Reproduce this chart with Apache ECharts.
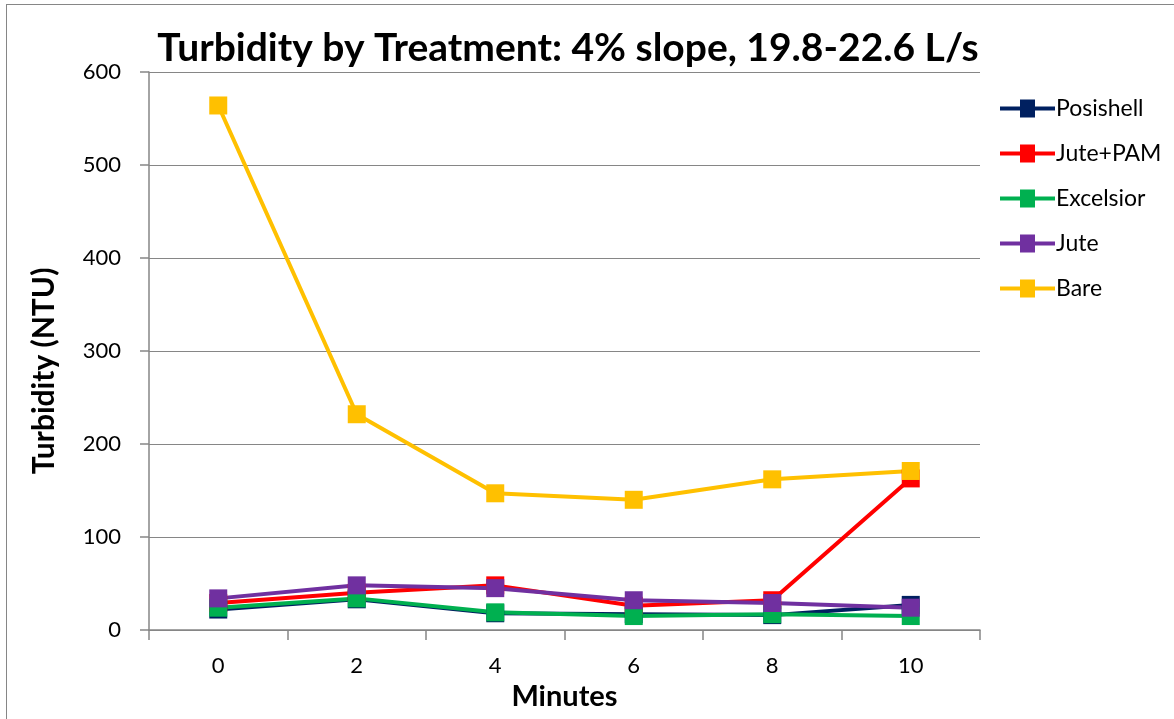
<!DOCTYPE html>
<html>
<head>
<meta charset="utf-8">
<script src="https://cdn.jsdelivr.net/npm/echarts@6/dist/echarts.min.js"></script>
<style>
  html, body { margin: 0; padding: 0; background: #fff; }
  #frame { position: absolute; left: 6px; top: 4px; width: 1200px; height: 800px; border: 1px solid #868686; box-sizing: border-box; }
  #chart { position: absolute; left: 0; top: 0; width: 1174px; height: 719px; }
</style>
</head>
<body>
<div id="frame"></div>
<div id="chart"></div>
<script>
// Turbidity readings (NTU) per treatment, sampled every 2 minutes
const minutes = ['0', '2', '4', '6', '8', '10'];
const posishell = [22, 33, 18, 17, 16, 27];
const jutePam = [29, 40, 48, 26, 32, 163];
const excelsior = [24, 34, 19, 15, 17, 15];
const jute = [34, 48, 45, 32, 29, 24];
const bare = [564, 232, 147, 140, 162, 171];

const seriesDefs = [
  { name: 'Posishell', data: posishell, color: '#002060' },
  { name: 'Jute+PAM', data: jutePam, color: '#FF0000' },
  { name: 'Excelsior', data: excelsior, color: '#00B050' },
  { name: 'Jute', data: jute, color: '#7030A0' },
  { name: 'Bare', data: bare, color: '#FFC000' }
];

const font = 'Lato, "Open Sans", sans-serif';
const axisGray = '#868686';

const chart = echarts.init(document.getElementById('chart'), null, { renderer: 'canvas' });
chart.setOption({
  animation: false,
  backgroundColor: 'transparent',
  title: {
    text: 'Turbidity by Treatment: 4% slope, 19.8-22.6 L/s',
    left: 563,
    top: 24,
    textAlign: 'center',
    textStyle: { fontFamily: font, fontWeight: 'bold', fontSize: 39, color: '#000' }
  },
  legend: {
    orient: 'vertical',
    left: 995,
    top: 92,
    itemWidth: 55,
    itemHeight: 18,
    itemGap: 22,
    icon: 'path://M0,7L20,7L20,0L35,0L35,7L55,7L55,11L35,11L35,18L20,18L20,11L0,11Z',
    textStyle: { fontFamily: font, fontSize: 23, color: '#000', padding: [0, 0, 0, -4] },
    data: seriesDefs.map(s => s.name)
  },
  grid: { left: 149, right: 194, top: 72, bottom: 89, containLabel: false },
  xAxis: {
    type: 'category',
    data: minutes,
    boundaryGap: true,
    name: 'Minutes',
    nameLocation: 'middle',
    nameGap: 52,
    nameTextStyle: { fontFamily: font, fontWeight: 'bold', fontSize: 29, color: '#000' },
    axisLine: { lineStyle: { color: axisGray, width: 1.5 } },
    axisTick: { show: true, length: 10, interval: 0, lineStyle: { color: axisGray, width: 1.5 } },
    axisLabel: { fontFamily: font, fontSize: 22, color: '#000', margin: 25 }
  },
  yAxis: {
    type: 'value',
    min: 0,
    max: 600,
    interval: 100,
    name: 'Turbidity (NTU)',
    nameLocation: 'middle',
    nameGap: 90,
    nameTextStyle: { fontFamily: font, fontWeight: 'bold', fontSize: 30, color: '#000', padding: [0, 40, 0, 0] },
    axisLine: { show: true, lineStyle: { color: axisGray, width: 1.5 } },
    axisTick: { show: true, length: 9, lineStyle: { color: axisGray, width: 1.5 } },
    axisLabel: { fontFamily: font, fontSize: 22, color: '#000', margin: 28 },
    splitLine: { lineStyle: { color: axisGray, width: 1.2 } }
  },
  series: seriesDefs.map(s => ({
    name: s.name,
    type: 'line',
    data: s.data,
    symbol: 'rect',
    symbolSize: 18,
    lineStyle: { color: s.color, width: 4 },
    itemStyle: { color: s.color },
    emphasis: { disabled: true }
  }))
});
</script>
</body>
</html>
